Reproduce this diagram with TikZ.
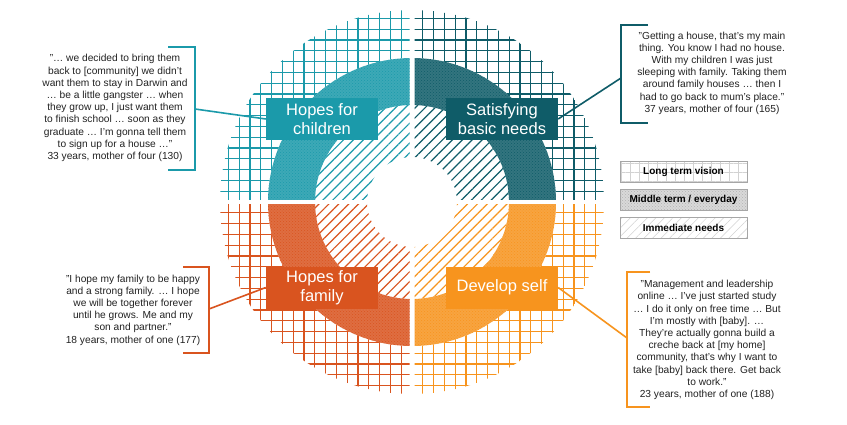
\documentclass[tikz,border=0pt]{standalone}
\usepackage{fontspec}
\setmainfont{Liberation Sans}
\usetikzlibrary{patterns,patterns.meta}
\definecolor{cA}{HTML}{1B9AAA}
\definecolor{cB}{HTML}{0F5C68}
\definecolor{cC}{HTML}{D9541F}
\definecolor{cD}{HTML}{F7941E}
\definecolor{txt}{HTML}{222222}
\tikzset{
 lab/.style={fill=#1,text=white,minimum width=112pt,minimum height=42pt,inner sep=2pt,align=center,font=\fontsize{16.5}{18.5}\selectfont},
 quote/.style={text=txt,align=center,font=\fontsize{10.2}{12.2}\selectfont,inner sep=0pt},
 brk/.style={draw=#1,line width=1.6pt},
 leg/.style={draw=gray!70,line width=0.8pt,minimum width=127pt,minimum height=21pt,font=\bfseries\fontsize{10}{12}\selectfont,text=black}
}
\newcommand{\quadrant}[3]{%
 \begin{scope}
  \clip (412+#1*2.5,202+#2*2.5) rectangle (412+#1*200,202+#2*200);
  \begin{scope}[even odd rule]
   \clip (412,202) circle[radius=192pt] (412,202) circle[radius=144pt];
   \foreach \k in {-18,...,18}{
     \draw[#3,line width=1.3pt] (412+\k*10.8,0) -- (412+\k*10.8,424);
     \draw[#3,line width=1.3pt] (200,202+\k*10.8) -- (630,202+\k*10.8);
   }
  \end{scope}
  \fill[even odd rule,#3!85!white] (412,202) circle[radius=144pt] (412,202) circle[radius=97pt];
  \fill[even odd rule,pattern=crosshatch dots,pattern color=#3] (412,202) circle[radius=144pt] (412,202) circle[radius=97pt];
  \fill[even odd rule,pattern={Lines[angle=45,distance=7pt,line width=1.2pt]},pattern color=#3] (412,202) circle[radius=97pt] (412,202) circle[radius=45pt];
 \end{scope}}
\begin{document}
\begin{tikzpicture}[x=1pt,y=-1pt]
\useasboundingbox[fill=white] (0,0) rectangle (847,424);
\quadrant{-1}{-1}{cA}
\quadrant{1}{-1}{cB}
\quadrant{-1}{1}{cC}
\quadrant{1}{1}{cD}
\node[lab=cA] (lA) at (322,119) {Hopes for\\children};
\node[lab=cB] (lB) at (502,119) {Satisfying\\basic needs};
\node[lab=cC] (lC) at (322,287.5) {Hopes for\\family};
\node[lab=cD] (lD) at (502,287.5) {Develop self};
% brackets
\coordinate (bA) at (195,109);
\coordinate (bB) at (621,78);
\coordinate (bC) at (209,309);
\coordinate (bD) at (627,338);
\draw[brk=cA] (168,47) -- (195,47) -- (195,170) -- (168,170);
\draw[brk=cA] (bA) -- (lA.west);
\draw[brk=cB] (648,25) -- (621,25) -- (621,123) -- (648,123);
\draw[brk=cB] (bB) -- (lB.east);
\draw[brk=cC] (183,267) -- (209,267) -- (209,353) -- (183,353);
\draw[brk=cC] (bC) -- (lC.west);
\draw[brk=cD] (650,272) -- (627,272) -- (627,407) -- (650,407);
\draw[brk=cD] (bD) -- (lD.east);
\node[quote] (qA) at (115,108) {"… we decided to bring them\\back to [community] we didn't\\want them to stay in Darwin and\\… be a little gangster … when\\they grow up, I just want them\\to finish school … soon as they\\graduate … I'm gonna tell them\\to sign up for a house …"\\33 years, mother of four (130)};
\node[quote] (qB) at (712,73) {"Getting a house, that's my main\\thing. You know I had no house.\\With my children I was just\\sleeping with family. Taking them\\around family houses … then I\\had to go back to mum's place."\\37 years, mother of four (165)};
\node[quote] (qC) at (133,310) {"I hope my family to be happy\\and a strong family. … I hope\\we will be together forever\\until he grows. Me and my\\son and partner."\\18 years, mother of one (177)};
\node[quote] (qD) at (707,340) {"Management and leadership\\online … I've just started study\\… I do it only on free time … But\\I'm mostly with [baby]. …\\They're actually gonna build a\\creche back at [my home]\\community, that's why I want to\\take [baby] back there. Get back\\to work."\\23 years, mother of one (188)};
% legend
\node[leg,pattern={Lines[angle=0,distance=9pt,line width=0.5pt]},pattern color=gray!35] (g1) at (683.5,172) {};
\node[leg,pattern={Lines[angle=90,distance=9pt,line width=0.5pt]},pattern color=gray!35] (g1b) at (683.5,172) {Long term vision};
\node[leg,fill=gray!30] (g2) at (683.5,199.5) {};
\node[leg,pattern=crosshatch dots,pattern color=gray!60] (g2b) at (683.5,199.5) {Middle term / everyday};
\node[leg,pattern={Lines[angle=45,distance=6pt,line width=0.5pt]},pattern color=gray!35] (g3) at (683.5,227.5) {Immediate needs};
\end{tikzpicture}
\end{document}
